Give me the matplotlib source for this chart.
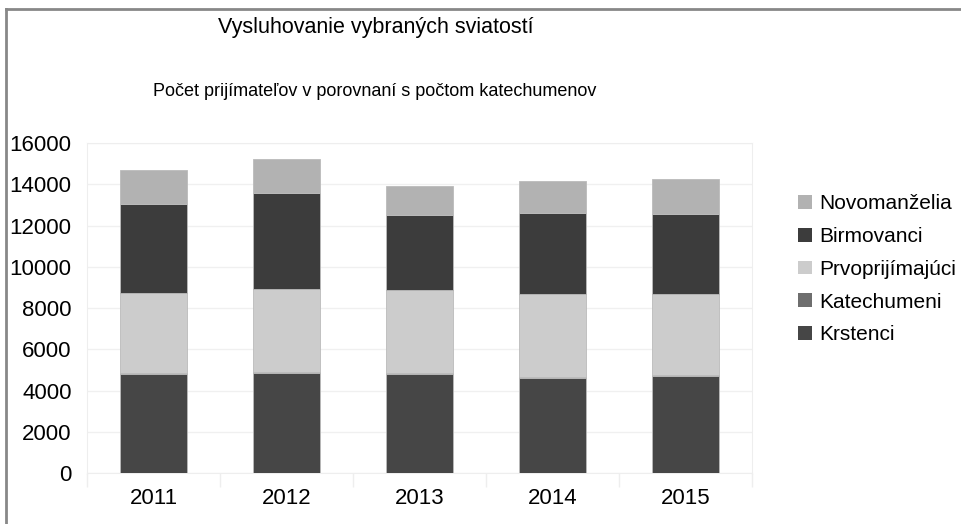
import numpy as np
import matplotlib.pyplot as plt
from matplotlib.lines import Line2D

plt.rcParams['font.family'] = ['Liberation Sans', 'DejaVu Sans']

years = ['2011', '2012', '2013', '2014', '2015']
krstenci = [4800, 4830, 4815, 4590, 4700]
katechumeni = [50, 50, 50, 45, 50]
prvoprijimajuci = [3877, 4041, 4008, 4043, 3910]
birmovanci = [4330, 4670, 3617, 3942, 3912]
novomanzelia = [1616, 1633, 1440, 1551, 1697]

series = [
    ('Krstenci', krstenci, '#464646'),
    ('Katechumeni', katechumeni, '#6e6e6e'),
    ('Prvoprijímajúci', prvoprijimajuci, '#cccccc'),
    ('Birmovanci', birmovanci, '#3c3c3c'),
    ('Novomanželia', novomanzelia, '#b2b2b2'),
]

fig = plt.figure(figsize=(9.62, 5.24), dpi=100)
ax = fig.add_axes([0.0904, 0.0973, 0.6913, 0.6298])

x = np.arange(len(years))
bottom = np.zeros(len(years))
handles = []
for name, vals, col in series:
    b = ax.bar(x, vals, 0.5, bottom=bottom, color=col, edgecolor='#bbbbbb',
               linewidth=0.6, label=name, zorder=3)
    bottom += np.array(vals)
    handles.append(b)

ax.set_xlim(-0.5, len(years) - 0.5)
ax.set_ylim(0, 16000)
ax.set_yticks(np.arange(0, 16001, 2000))
ax.yaxis.grid(True, color='#f0f0f0', linewidth=1, zorder=0)
ax.tick_params(axis='y', length=0, labelsize=16, pad=11)
ax.set_xticks(x)
ax.set_xticklabels(years)
ax.tick_params(axis='x', length=0, labelsize=16, pad=11)
ax.set_xticks(np.arange(-0.5, len(years), 1), minor=True)
ax.tick_params(axis='x', which='minor', length=10, color='#eeeeee', width=1)
for s in ax.spines.values():
    s.set_color('#eeeeee')

leg = fig.legend(handles[::-1], [h.get_label() for h in handles[::-1]],
                 loc='upper left', bbox_to_anchor=(0.81, 0.665), frameon=False,
                 fontsize=15, handlelength=0.65, handleheight=0.65,
                 handletextpad=0.35, labelspacing=0.66)
for h in leg.legend_handles:
    h.set_edgecolor('none')

fig.text(0.391, 0.948, 'Vysluhovanie vybraných sviatostí', ha='center', va='center', fontsize=15.5)
fig.text(0.39, 0.826, 'Počet prijímateľov v porovnaní s počtom katechumenov', ha='center',
         va='center', fontsize=13)

# frame lines at top and left
fig.add_artist(Line2D([0.0065, 0.0065], [0, 0.983], color='#888888', linewidth=2,
                      transform=fig.transFigure))
fig.add_artist(Line2D([0.0065, 1], [0.983, 0.983], color='#888888', linewidth=2,
                      transform=fig.transFigure))

fig.savefig('out.png', dpi=100)
